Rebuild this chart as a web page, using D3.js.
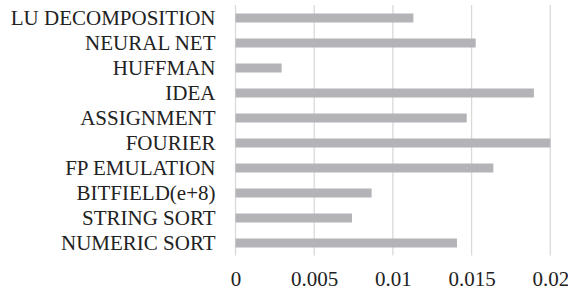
<!DOCTYPE html>
<html><head><meta charset="utf-8">
<script src="https://cdn.jsdelivr.net/npm/d3@7"></script>
<style>body{margin:0;background:#fff}svg{display:block}</style>
</head><body>
<script>
const categories = ["LU DECOMPOSITION","NEURAL NET","HUFFMAN","IDEA","ASSIGNMENT","FOURIER","FP EMULATION","BITFIELD(e+8)","STRING SORT","NUMERIC SORT"];
const values = [0.0113,0.01526,0.00293,0.01896,0.01469,0.02,0.01638,0.00865,0.0074,0.01407];
const tickValues = [0,0.005,0.01,0.015,0.02];
const tickLabels = ["0","0.005","0.01","0.015","0.02"];

const W=568,H=295;
const svg=d3.select("body").append("svg").attr("width",W).attr("height",H);
const x=d3.scaleLinear().domain([0,0.02]).range([235.5,550.3]);
const y=d3.scaleBand().domain(categories).range([5.5,255.5]).paddingInner(0.64).paddingOuter(0.32);
const font="'Liberation Serif','Times New Roman',serif";

svg.append("g").selectAll("line").data(tickValues).join("line")
  .attr("x1",d=>x(d)).attr("x2",d=>x(d)).attr("y1",5).attr("y2",255.5)
  .attr("stroke","#d9d9d9").attr("stroke-width",1.3);

svg.append("g").selectAll("rect").data(values).join("rect")
  .attr("x",x(0)).attr("y",(d,i)=>y(categories[i]))
  .attr("width",d=>x(d)-x(0)).attr("height",y.bandwidth())
  .attr("fill","#b4b4b8");

const yAxis=d3.axisLeft(y).tickSize(0).tickPadding(20);
const gy=svg.append("g").attr("transform",`translate(${x(0)},0)`).call(yAxis);
gy.select(".domain").remove();
gy.selectAll("text").attr("font-family",font).attr("font-size","21px").attr("fill","#222");

const xAxis=d3.axisBottom(x).tickValues(tickValues).tickFormat((d,i)=>tickLabels[i]).tickSize(0).tickPadding(0);
const gx=svg.append("g").attr("transform",`translate(0,271.5)`).call(xAxis);
gx.select(".domain").remove();
gx.selectAll("text").attr("font-family",font).attr("font-size","21px").attr("fill","#222");
</script>
</body></html>
